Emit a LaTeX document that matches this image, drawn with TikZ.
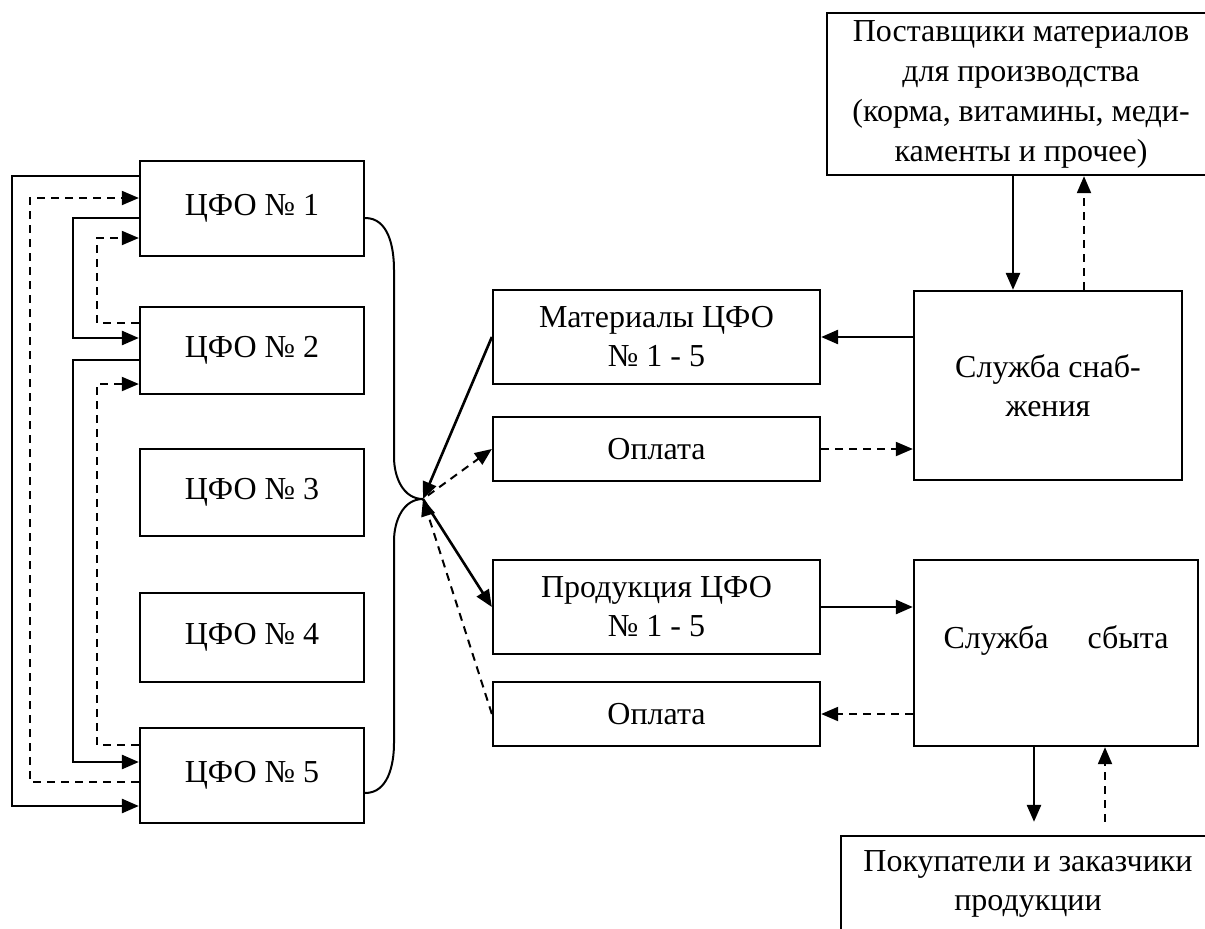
\documentclass[tikz,border=0pt]{standalone}
\usepackage{fontspec}
\setmainfont{Liberation Serif}
\usetikzlibrary{arrows.meta}

\begin{document}
\begin{tikzpicture}[x=1pt,y=-1pt,>={Triangle[length=17pt,width=14pt]},
  font=\fontsize{32}{39}\selectfont,
  box/.style={draw,line width=2.3pt,align=center,inner sep=0pt},
  cfo/.style={box,minimum width=224pt},
  mid/.style={box,minimum width=327pt},
  flow/.style={line width=2.6pt},
  dflow/.style={line width=2pt,dash pattern=on 8pt off 6pt},
  brace/.style={line width=2pt}]
  \useasboundingbox[fill=white] (0,0) rectangle (1205,929);

  % centres of financial responsibility
  \node[cfo,minimum height=95pt] (cfo1) at (252,208.5) {ЦФО № 1};
  \node[cfo,minimum height=87pt] (cfo2) at (252,350.5) {ЦФО № 2};
  \node[cfo,minimum height=87pt] (cfo3) at (252,492.5) {ЦФО № 3};
  \node[cfo,minimum height=89pt] (cfo4) at (252,637.5) {ЦФО № 4};
  \node[cfo,minimum height=95pt] (cfo5) at (252,775.5) {ЦФО № 5};

  % flows between the boxes
  \draw[flow,->] (cfo1.west |- 0,176) -| (12,806) -- (cfo5.west |- 0,806);
  \draw[dflow,->] (cfo5.west |- 0,782) -| (30,198) -- (cfo1.west |- 0,198);
  \draw[flow,->] (cfo1.west |- 0,218) -| (73,338) -- (cfo2.west |- 0,338);
  \draw[dflow,->] (cfo2.west |- 0,323) -| (97,238) -- (cfo1.west |- 0,238);
  \draw[flow,->] (cfo2.west |- 0,360) -| (73,762) -- (cfo5.west |- 0,762);
  \draw[dflow,->] (cfo5.west |- 0,745) -| (97,384) -- (cfo2.west |- 0,384);

  % brace
  \coordinate (hub) at (423,499);
  \draw[brace] (cfo1.east |- 0,218) to[out=0,in=90] (394,270) -- (394,457)
    to[out=-90,in=180] (hub) to[out=180,in=90] (394,541) -- (394,743)
    to[out=-90,in=0] (cfo5.east |- 0,793);

  % middle column
  \node[mid,minimum height=94pt] (mat) at (656.5,337) {Материалы ЦФО\\№ 1 - 5};
  \node[mid,minimum height=64pt] (opl1) at (656.5,449) {Оплата};
  \node[mid,minimum height=94pt] (prod) at (656.5,607) {Продукция ЦФО\\№ 1 - 5};
  \node[mid,minimum height=64pt] (opl2) at (656.5,714) {Оплата};

  \draw[flow,->] (mat.west) -- (hub);
  \draw[dflow,->,shorten <=6pt] (hub) -- (opl1.west);
  \draw[flow,->] (hub) -- (prod.west);
  \draw[dflow,->] (opl2.west) -- (hub);

  % services
  \node[box,minimum width=268pt,minimum height=189pt] (snab) at (1048,385.5) {Служба снаб-\\жения};
  \node[box,minimum width=284pt,minimum height=186pt] (sbyt) at (1056,653) {};
  \node[text width=225pt] (sbyttext) at ([yshift=13pt]sbyt.center) {Служба \hfill сбыта};

  \draw[flow,->] (snab.west |- mat.east) -- (mat.east);
  \draw[dflow,->] (opl1.east) -- (opl1.east -| snab.west);
  \draw[flow,->] (prod.east) -- (prod.east -| sbyt.west);
  \draw[dflow,->] (opl2.east -| sbyt.west) -- (opl2.east);

  % suppliers and buyers
  \node[box,minimum width=388pt,minimum height=162pt,font=\fontsize{32}{40}\selectfont]
    (supp) at (1021,94) {Поставщики материалов\\для производства\\(корма, витамины, меди-\\каменты и прочее)};
  \node[box,minimum width=374pt,minimum height=96pt] (buy) at (1028,884) {Покупатели и заказчики\\продукции};

  \draw[flow,->] (supp.south -| 1013,0) -- (snab.north -| 1013,0);
  \draw[dflow,->] (snab.north -| 1084,0) -- (supp.south -| 1084,0);
  \draw[flow,->,shorten >=13pt] (sbyt.south -| 1034,0) -- (buy.north -| 1034,0);
  \draw[dflow,->,shorten <=13pt] (buy.north -| 1105,0) -- (sbyt.south -| 1105,0);
\end{tikzpicture}
\end{document}
